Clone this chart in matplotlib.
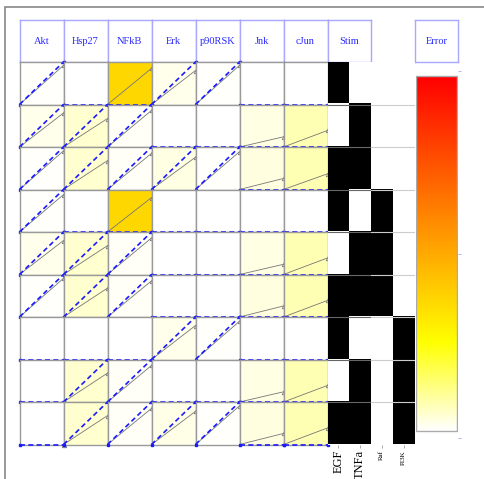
import numpy as np
import matplotlib
matplotlib.use("Agg")
import matplotlib.pyplot as plt
from matplotlib.colors import LinearSegmentedColormap
from matplotlib.patches import Rectangle

W, H = 484, 479

readouts = ["Akt", "Hsp27", "NFkB", "Erk", "p90RSK", "Jnk", "cJun"]
stimuli = ["EGF", "TNFa"]
inhibitors = ["Raf", "PI3K"]
time_points = [0, 1]

# 1 = present, 0 = absent (one row per experiment)
stim_on = [[1, 0], [0, 1], [1, 1], [1, 0], [0, 1], [1, 1], [1, 0], [0, 1], [1, 1]]
inhib_on = [[0, 0], [0, 0], [0, 0], [1, 0], [1, 0], [1, 0], [0, 1], [0, 1], [0, 1]]

# normalised readout at the last time point (value at t0 is 0)
data_end = [
    [0.92, 0.00, 0.85, 0.80, 0.92, 0.00, 0.00],
    [0.80, 0.67, 0.86, 0.00, 0.00, 0.24, 0.39],
    [0.91, 0.68, 0.85, 0.76, 0.89, 0.26, 0.37],
    [0.88, 0.00, 0.81, 0.00, 0.00, 0.00, 0.00],
    [0.80, 0.68, 0.86, 0.00, 0.00, 0.24, 0.39],
    [0.91, 0.68, 0.85, 0.00, 0.00, 0.26, 0.39],
    [0.00, 0.00, 0.00, 0.80, 0.90, 0.00, 0.00],
    [0.00, 0.68, 0.86, 0.00, 0.00, 0.24, 0.39],
    [0.00, 0.68, 0.85, 0.78, 0.91, 0.26, 0.39],
]
sim_end = [
    [1, 0, 0, 1, 1, 0, 0],
    [1, 1, 1, 0, 0, 0, 0],
    [1, 1, 1, 1, 1, 0, 0],
    [1, 0, 0, 0, 0, 0, 0],
    [1, 1, 1, 0, 0, 0, 0],
    [1, 1, 1, 0, 0, 0, 0],
    [0, 0, 0, 1, 1, 0, 0],
    [0, 1, 1, 0, 0, 0, 0],
    [0, 1, 1, 1, 1, 0, 0],
]
error = [
    [0.005, 0.00, 0.37, 0.02, 0.005, 0.00, 0.00],
    [0.020, 0.05, 0.01, 0.00, 0.000, 0.03, 0.075],
    [0.005, 0.05, 0.01, 0.03, 0.006, 0.035, 0.075],
    [0.007, 0.00, 0.37, 0.00, 0.000, 0.00, 0.00],
    [0.020, 0.05, 0.01, 0.00, 0.000, 0.03, 0.075],
    [0.005, 0.05, 0.01, 0.00, 0.000, 0.035, 0.075],
    [0.000, 0.00, 0.00, 0.02, 0.005, 0.00, 0.00],
    [0.000, 0.05, 0.01, 0.00, 0.000, 0.03, 0.075],
    [0.000, 0.05, 0.01, 0.025, 0.004, 0.035, 0.075],
]

err_cmap = LinearSegmentedColormap.from_list(
    "err", [(0.0, "white"), (0.25, "yellow"), (1.0, "red")])

plt.rcParams["font.family"] = ["Liberation Serif", "DejaVu Serif"]
HEAD_EDGE = "#a8a8ff"
HEAD_TEXT = "#2a2aff"
GRID = "#999999"


def px(x0, y0, x1, y1):
    return [x0 / W, 1 - y1 / H, (x1 - x0) / W, (y1 - y0) / H]


def header(fig, x0, x1, label):
    ax = fig.add_axes(px(x0, 20, x1, 62))
    ax.set_xticks([]); ax.set_yticks([])
    for s in ax.spines.values():
        s.set_color(HEAD_EDGE); s.set_linewidth(1.0)
    ax.text(0.5, 0.5, label, ha="center", va="center", color=HEAD_TEXT,
            fontsize=7.5, transform=ax.transAxes)


fig = plt.figure(figsize=(W / 100, H / 100), dpi=100)
fig.patches.append(Rectangle((5 / W, -0.1), 1.2, 1 - 7 / H + 0.1,
                             transform=fig.transFigure, fill=False,
                             edgecolor="#888888", lw=1.2))

left, cw = 19.5, 44.0
top, rh = 62.0, 42.5
nrow = len(stim_on)

for j, name in enumerate(readouts):
    header(fig, left + j * cw, left + (j + 1) * cw, name)
header(fig, left + 7 * cw, left + 7 * cw + 43, "Stim")
header(fig, 415, 458, "Error")

for i in range(nrow):
    for j in range(len(readouts)):
        ax = fig.add_axes(px(left + j * cw, top + i * rh,
                             left + (j + 1) * cw, top + (i + 1) * rh))
        ax.set_facecolor(err_cmap(error[i][j]))
        ax.plot(time_points, [0, data_end[i][j]], color="#777777", lw=0.6,
                zorder=2)
        ax.plot(time_points[-1:], [data_end[i][j]], marker="^", ms=3.2,
                mfc="none", mec="#777777", mew=0.6, clip_on=False, zorder=2)
        ax.plot(time_points, [0, sim_end[i][j]], color="#1a1aff", lw=1.2,
                dashes=(3, 2), marker="s", ms=1.8, clip_on=False, zorder=3)
        ax.set_xlim(0, 1); ax.set_ylim(0, 1)
        ax.set_xticks([]); ax.set_yticks([])
        for s in ax.spines.values():
            s.set_color(GRID); s.set_linewidth(1.0)

# stimuli / inhibitors design matrix
sx0 = left + 7 * cw
for cols, mat, x0, x1, fs, lc in [
        (stimuli, stim_on, sx0, sx0 + 43, 9, "#666666"),
        (inhibitors, inhib_on, sx0 + 43, sx0 + 87, 5, "#cccccc")]:
    ax = fig.add_axes(px(x0, top, x1, top + nrow * rh))
    ax.imshow(np.array(mat), cmap="gray_r", vmin=0, vmax=1, aspect="auto",
              interpolation="nearest", extent=(0, len(cols), nrow, 0))
    for k in range(1, nrow):
        ax.axhline(k, color=lc, lw=0.8)
    ax.set_xlim(0, len(cols)); ax.set_ylim(nrow, 0)
    ax.set_yticks([])
    ax.set_xticks(np.arange(len(cols)) + 0.5)
    ax.set_xticklabels(cols, rotation=90, fontsize=fs)
    ax.tick_params(axis="x", length=2, width=0.5, color="#888888", pad=2)
    for s in ax.spines.values():
        s.set_visible(False)

# error colour bar
cax = fig.add_axes(px(416, 71, 458, 438))
grad = np.linspace(0, 1, 256).reshape(-1, 1)
cax.imshow(grad, cmap=err_cmap, aspect="auto", origin="lower",
           extent=(0, 1, 0, 1))
cax.add_patch(Rectangle((0, 0), 1, 1, fill=False, edgecolor="#aaaaaa", lw=1.0))
cax.set_xlim(0, 1.02); cax.set_ylim(-0.02, 1.015)
cax.set_xticks([])
cax.yaxis.tick_right()
cax.set_yticks([-0.02, 0.5, 1.015])
cax.set_yticklabels([])
cax.tick_params(axis="y", length=2, width=0.6, color=HEAD_EDGE)
for s in cax.spines.values():
    s.set_visible(False)

fig.savefig("out.png", dpi=100)
